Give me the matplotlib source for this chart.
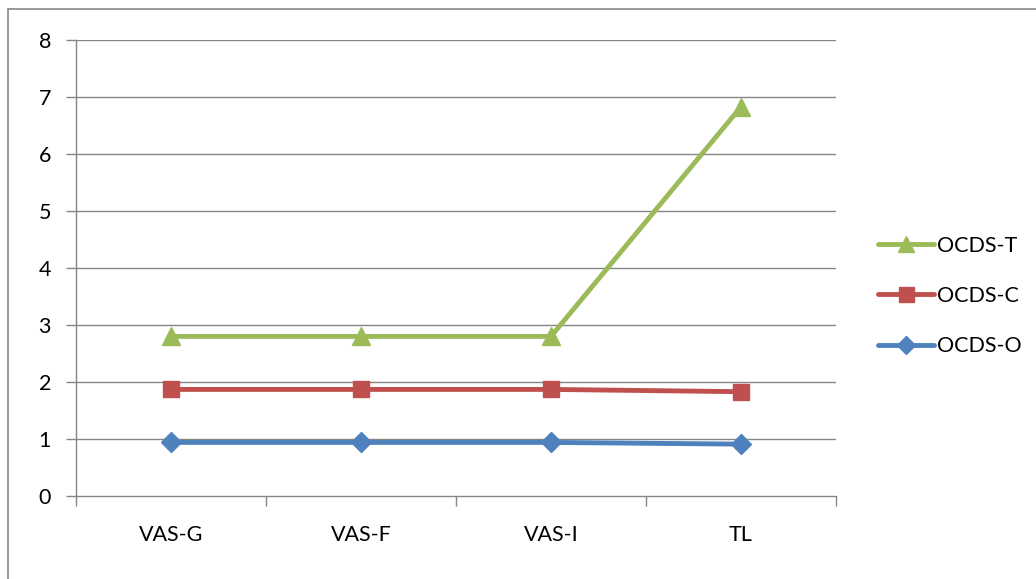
import matplotlib
matplotlib.use("Agg")
import matplotlib.pyplot as plt
from matplotlib.patches import Rectangle
from matplotlib.lines import Line2D

categories = ["VAS-G", "VAS-F", "VAS-I", "TL"]
ocds_t = [2.8, 2.8, 2.8, 6.83]
ocds_c = [1.87, 1.87, 1.87, 1.83]
ocds_o = [0.94, 0.94, 0.94, 0.91]
yticks = [0, 1, 2, 3, 4, 5, 6, 7, 8]

plt.rcParams['font.family'] = ['Lato', 'DejaVu Sans']
FS = 15.5

W, H = 1036, 579
fig = plt.figure(figsize=(W/100, H/100), dpi=100)
x0, x1, ytop, ybot = 76, 836, 40, 496
ax = fig.add_axes([x0/W, 1-ybot/H, (x1-x0)/W, (ybot-ytop)/H])

grid_c = "#868686"
for y in yticks[1:]:
    ax.axhline(y, color=grid_c, lw=1.0, zorder=1)

xs = list(range(len(categories)))
series = [
    ("OCDS-T", ocds_t, "#9BBB59", "^", 13),
    ("OCDS-C", ocds_c, "#C0504D", "s", 12),
    ("OCDS-O", ocds_o, "#4F81BD", "D", 10),
]
handles = []
for name, vals, col, mk, ms in series:
    ax.plot(xs, vals, color=col, lw=3.5, marker=mk, markersize=ms,
            markerfacecolor=col, markeredgecolor=col, zorder=3, clip_on=False,
            solid_capstyle='round')
    handles.append(Line2D([], [], color=col, lw=3.5, marker=mk, markersize=ms*0.9,
                          markerfacecolor=col, markeredgecolor=col,
                          solid_capstyle='round'))

ax.set_xlim(-0.5, len(categories) - 0.5)
ax.set_ylim(0, 8)
ax.set_yticks(yticks)
ax.set_yticklabels([str(v) for v in yticks], fontsize=FS)
ax.set_xticks([i - 0.5 for i in range(len(categories) + 1)])
ax.set_xticklabels([])
ax.set_xticks(xs, minor=True)
ax.set_xticklabels(categories, minor=True, fontsize=FS)
ax.tick_params(axis='x', which='minor', length=0, pad=21)
ax.tick_params(axis='x', which='major', direction='out', length=7, color=grid_c, width=1)
ax.tick_params(axis='y', direction='out', length=7, color=grid_c, width=1, pad=11)
for s in ["top", "right"]:
    ax.spines[s].set_visible(False)
for s in ["left", "bottom"]:
    ax.spines[s].set_color(grid_c)
    ax.spines[s].set_linewidth(1.0)

leg = fig.legend(handles, [s[0] for s in series], loc="center left",
                 bbox_to_anchor=(867/W, 1-296/H), frameon=False, fontsize=FS,
                 handlelength=2.6, handletextpad=0.15, labelspacing=1.4,
                 borderpad=0)

fig.patches.append(Rectangle((8/W, -0.1), 1.2, 1 - 9/H + 0.1,
                             transform=fig.transFigure, fill=False,
                             edgecolor="#878787", lw=1.2))

fig.savefig("out.png", dpi=100)
